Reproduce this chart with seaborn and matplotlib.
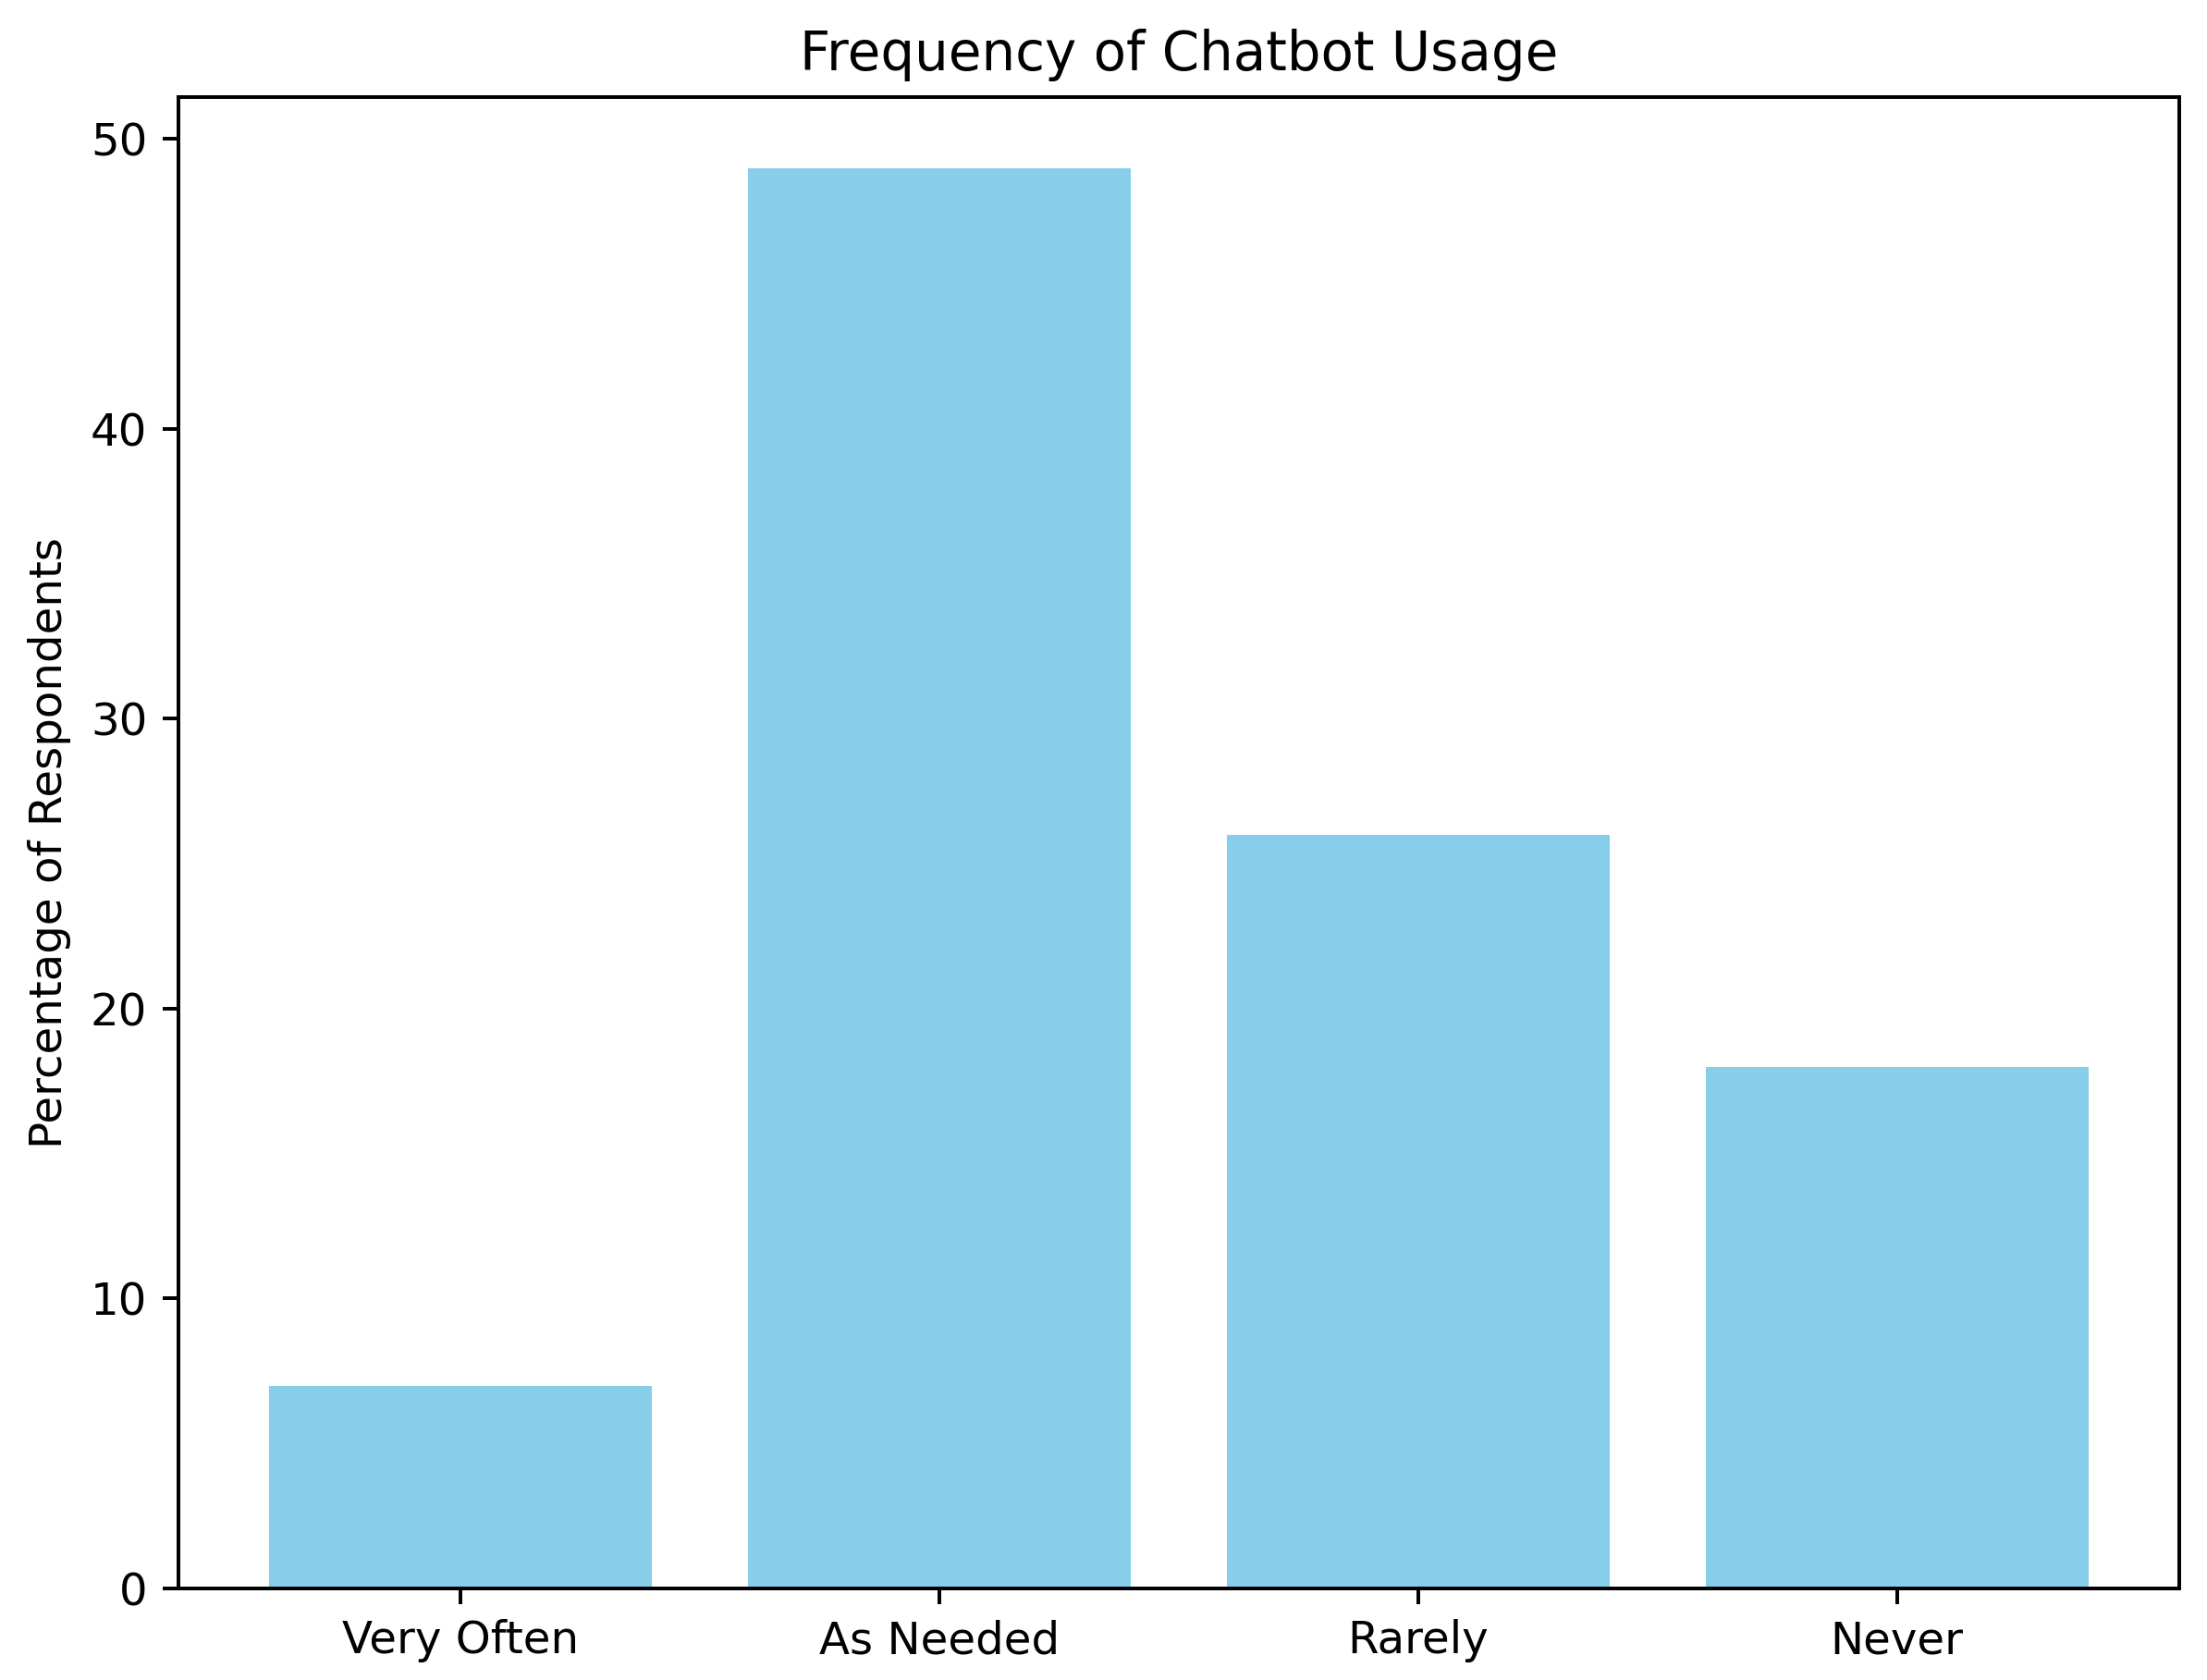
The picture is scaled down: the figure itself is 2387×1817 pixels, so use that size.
import pandas as pd
import seaborn as sns
import matplotlib.pyplot as plt

categories = ["Very Often", "As Needed", "Rarely", "Never"]
percentages = [7, 49, 26, 18]

data = pd.DataFrame({"frequency": categories, "percent": percentages})

plt.rcParams['font.family'] = ['DejaVu Sans']
plt.rcParams['axes.linewidth'] = 0.95
plt.rcParams['xtick.major.width'] = 0.95
plt.rcParams['ytick.major.width'] = 0.95
plt.rcParams['xtick.major.size'] = 4
plt.rcParams['ytick.major.size'] = 4

fig = plt.figure(figsize=(2387 / 300, 1817 / 300), dpi=300)
ax = fig.add_axes([0.0807, 0.0545, 0.9068, 0.8877])

sns.barplot(data=data, x="frequency", y="percent", color="skyblue",
            saturation=1, width=0.8, ax=ax)

n = len(categories)
pad = 0.05 * (n - 1 + 0.8)
ax.set_xlim(-0.4 - pad, n - 1 + 0.4 + pad)
ax.set_ylim(0, max(percentages) * 1.05)

ax.set_title("Frequency of Chatbot Usage", fontsize=13.9, pad=7)
ax.set_ylabel("Percentage of Respondents", fontsize=11.6, labelpad=5)
ax.set_xlabel("")
ax.tick_params(labelsize=11.6, pad=4)

fig.savefig("out.png", dpi=300)
